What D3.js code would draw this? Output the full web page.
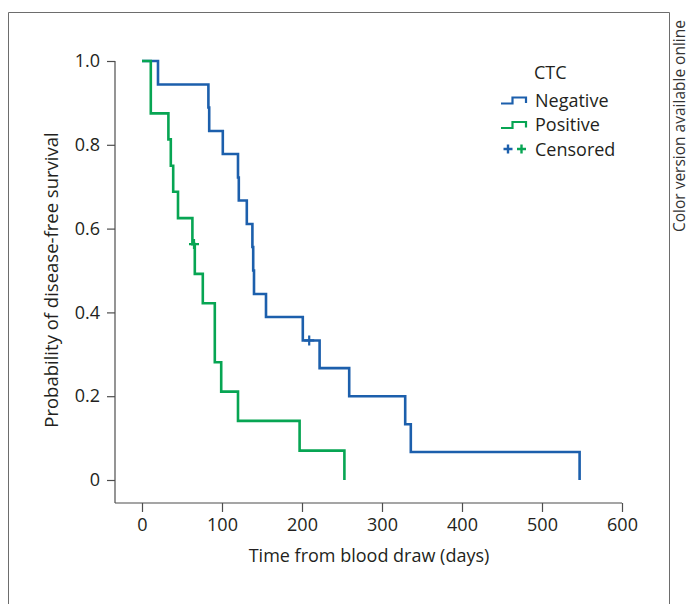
<!DOCTYPE html>
<html>
<head>
<meta charset="utf-8">
<script src="https://cdn.jsdelivr.net/npm/d3@7"></script>
<style>
  body { margin: 0; background: #fff; }
  svg text { font-family: "Open Sans", "Noto Sans", sans-serif; fill: #231f20; }
</style>
</head>
<body>
<svg id="chart" width="686" height="604"></svg>
<script>
// Kaplan-Meier steps (time in days, survival probability)
var negTimes = [0, 20, 83, 84, 101, 120, 121, 131, 138, 139, 140, 155, 201, 222, 259, 329, 336, 547];
var negSurv  = [1, 0.944, 0.889, 0.833, 0.778, 0.722, 0.667, 0.611, 0.556, 0.5, 0.444, 0.389, 0.333, 0.267, 0.2, 0.133, 0.067, 0];
var negCensor = [[209, 0.333]];

var posTimes = [0, 11, 33, 36, 39, 45, 63, 66, 76, 91, 99, 120, 197, 253];
var posSurv  = [1, 0.875, 0.813, 0.75, 0.688, 0.625, 0.563, 0.492, 0.422, 0.281, 0.211, 0.141, 0.070, 0];
var posCensor = [[65, 0.563]];

var xTicks = [0, 100, 200, 300, 400, 500, 600];
var yTicks = [0, 0.2, 0.4, 0.6, 0.8, 1.0];
var legendLabels = ['Negative', 'Positive'];

const blue = '#1c5fac';
const green = '#07a553';
const axisCol = '#4d4d4d';

var svg = d3.select('#chart');

// outer frame, open at the bottom
svg.append('path')
    .attr('d', 'M8.5,604V12.5H669.5V604')
    .attr('fill', 'none')
    .attr('stroke', '#6d6d6d')
    .attr('stroke-width', 1);

svg.append('text')
    .attr('transform', 'translate(685,20)rotate(-90)')
    .attr('text-anchor', 'end')
    .style('font-size', '15.5px')
    .style('fill', '#333')
    .text('Color version available online');

var x = d3.scaleLinear().domain([0, 600]).range([142, 622]);
var y = d3.scaleLinear().domain([0, 1]).range([480, 61]);
var x0 = 115, y0 = 503; // axis corner

var xAxis = d3.axisBottom(x)
    .tickValues(xTicks).tickSizeOuter(0).tickSize(9).tickPadding(6)
    .tickFormat(d3.format('d'));
var gx = svg.append('g').attr('transform', 'translate(0,' + y0 + ')').call(xAxis);

var yAxis = d3.axisLeft(y)
    .tickValues(yTicks).tickSizeOuter(0).tickSize(8).tickPadding(7)
    .tickFormat(d => d === 0 ? '0' : d3.format('.1f')(d));
var gy = svg.append('g').attr('transform', 'translate(' + x0 + ',0)').call(yAxis);

// domain lines run from the corner
gx.select('.domain').attr('d', 'M' + x0 + ',0H' + x(600));
gy.select('.domain').attr('d', 'M0,' + y0 + 'V' + y(1));

[gx, gy].forEach(function(g) {
  g.selectAll('path, line').attr('stroke', axisCol).attr('stroke-width', 1.2);
  g.selectAll('text').style('font-size', '18px').attr('fill', '#231f20')
    .style('font-family', '"Open Sans", sans-serif');
});

svg.append('text')
    .attr('x', 369).attr('y', 562)
    .attr('text-anchor', 'middle')
    .style('font-size', '18px')
    .text('Time from blood draw (days)');

svg.append('text')
    .attr('transform', 'translate(58,280)rotate(-90)')
    .attr('text-anchor', 'middle')
    .style('font-size', '18.5px')
    .text('Probability of disease-free survival');

// step curves
function steps(times, surv) {
  return times.map((t, i) => [t, surv[i]]);
}
var line = d3.line()
    .x(d => x(d[0]))
    .y(d => y(d[1]))
    .curve(d3.curveStepAfter);

var curves = [
  {pts: steps(negTimes, negSurv), col: blue, cens: negCensor},
  {pts: steps(posTimes, posSurv), col: green, cens: posCensor}
];

curves.forEach(function(c) {
  svg.append('path')
      .attr('d', line(c.pts))
      .attr('fill', 'none')
      .attr('stroke', c.col)
      .attr('stroke-width', 2.6);
  svg.selectAll(null)
      .data(c.cens)
      .enter().append('path')
      .attr('d', d => 'M' + (x(d[0]) - 5) + ',' + y(d[1]) + 'h10M' + x(d[0]) + ',' + (y(d[1]) - 5) + 'v10')
      .attr('stroke', c.col)
      .attr('stroke-width', 2.2);
});

// legend
var leg = svg.append('g');
leg.append('text')
    .attr('x', 534).attr('y', 79)
    .style('font-size', '18px')
    .text('CTC');

var legRows = leg.selectAll('g.row')
    .data(legendLabels)
    .enter().append('g')
    .attr('transform', (d, i) => 'translate(0,' + (100 + i * 24.5) + ')');
legRows.append('path')
    .attr('d', 'M501,3.5H512.5V-2.5H526V3')
    .attr('fill', 'none')
    .attr('stroke', (d, i) => i === 0 ? blue : green)
    .attr('stroke-width', 2.2);
legRows.append('text')
    .attr('x', 535).attr('y', 6.5)
    .style('font-size', '18px')
    .text(d => d);

var cg = leg.append('g').attr('transform', 'translate(0,149)');
cg.selectAll('path')
    .data([blue, green])
    .enter().append('path')
    .attr('d', (d, i) => { var cx = 508 + i * 13.5; return 'M' + (cx - 4.5) + ',0h9M' + cx + ',-4.5v9'; })
    .attr('stroke', d => d)
    .attr('stroke-width', 2.4);
cg.append('text')
    .attr('x', 535).attr('y', 6.5)
    .style('font-size', '18px')
    .text('Censored');
</script>
</body>
</html>
